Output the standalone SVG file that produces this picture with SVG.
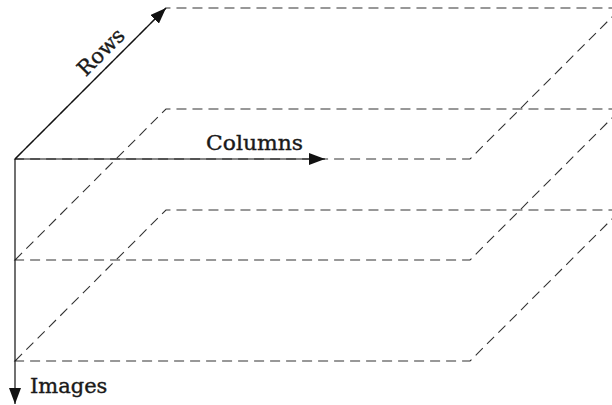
<svg xmlns="http://www.w3.org/2000/svg" width="612" height="405" viewBox="0 0 612 405">
<style>
.plane{fill:none;stroke:#333;stroke-width:1.1;stroke-dasharray:10 6}
.axis{fill:none;stroke:#111;stroke-width:1.2}
.lbl{font-family:"DejaVu Serif",serif;font-size:21px;fill:#1a1a1a;stroke:#1a1a1a;stroke-width:0.4}
</style>
<defs>
<marker id="ah" viewBox="0 0 16 12" refX="16" refY="6" markerWidth="16" markerHeight="12" markerUnits="userSpaceOnUse" orient="auto">
<path d="M0,0 L16,6 L0,12 Z" fill="#111"/>
</marker>
</defs>
<rect width="612" height="405" fill="#fff"/>
<g id="plane1"><polygon class="plane" points="15,159 166,8 621,8 470,159"/></g>
<g id="plane2"><polygon class="plane" points="15,260 166,109 621,109 470,260"/></g>
<g id="plane3"><polygon class="plane" points="15,361 166,210 621,210 470,361"/></g>
<g id="connectors">
<line class="axis" x1="15" y1="159" x2="166" y2="8" marker-end="url(#ah)"/>
<line class="axis" x1="15" y1="159" x2="325" y2="159" marker-end="url(#ah)"/>
<line class="axis" x1="15" y1="159" x2="15" y2="404" marker-end="url(#ah)"/>
</g>
<g id="labels">
<text class="lbl" transform="translate(106,57) rotate(-45)" text-anchor="middle">Rows</text>
<text class="lbl" x="206" y="150" textLength="97" lengthAdjust="spacingAndGlyphs">Columns</text>
<text class="lbl" x="30" y="393">Images</text>
</g>
</svg>
